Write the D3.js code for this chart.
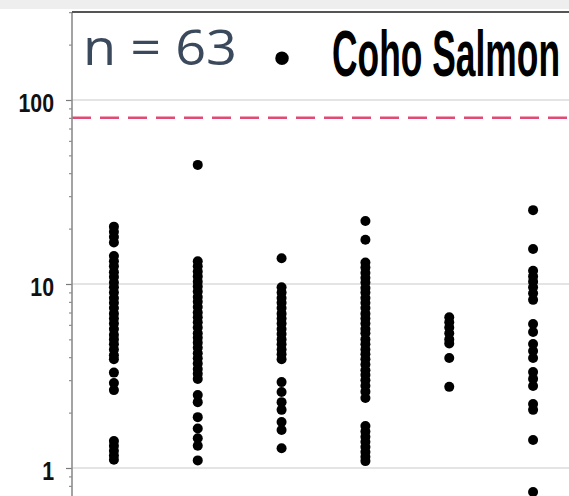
<!DOCTYPE html>
<html>
<head>
<meta charset="utf-8">
<script src="https://cdnjs.cloudflare.com/ajax/libs/d3/7.8.5/d3.min.js"></script>
<style>
    body { margin: 0; background: #ffffff; }
    #chart-area { width: 569px; height: 496px; overflow: hidden; }
</style>
</head>
<body>
<div id="chart-area"></div>
<script>

// Sites along the x axis (names are cut off in the picture)
const sites = ["Site 1", "Site 2", "Site 3", "Site 4", "Site 5", "Site 6"];

// Measured values per site (log scale)
const site1Values = [20.5, 19.2, 18.0, 16.8, 14.2, 13.3, 12.5, 11.6, 10.9, 10.2, 9.6, 9.0, 8.4, 7.9, 7.4, 6.9, 6.5,
    6.1, 5.7, 5.3, 5.0, 4.7, 4.4, 4.1, 3.9, 3.3, 2.9, 2.65, 1.40, 1.32, 1.24, 1.17, 1.11];
const site2Values = [44.4, 13.3, 12.5, 11.7, 11.0, 10.3, 9.7, 9.1, 8.5, 8.0, 7.5, 7.0, 6.6, 6.2, 5.8, 5.4, 5.1,
    4.8, 4.5, 4.2, 3.95, 3.7, 3.45, 3.25, 3.05, 2.49, 2.28, 1.89, 1.64, 1.45, 1.32, 1.10];
const site3Values = [13.8, 9.6, 9.0, 8.4, 7.9, 7.4, 6.9, 6.5, 6.1, 5.7, 5.35, 5.0, 4.7, 4.4, 4.15, 3.9,
    2.93, 2.59, 2.28, 2.07, 1.78, 1.61, 1.28];
const site4Values = [22.0, 17.4, 13.1, 12.3, 11.5, 10.8, 10.2, 9.5, 9.0, 8.4, 7.9, 7.4, 6.9, 6.5, 6.1, 5.7, 5.4,
    5.0, 4.7, 4.4, 4.15, 3.9, 3.65, 3.4, 3.2, 3.0, 2.8, 2.6, 2.4, 1.69, 1.58, 1.48, 1.39, 1.30, 1.22, 1.15, 1.09];
const site5Values = [6.6, 6.2, 5.8, 5.4, 5.0, 4.75, 3.96, 2.76];
const site6Values = [25.2, 15.5, 11.8, 11.0, 10.3, 9.6, 8.9, 8.2, 6.06, 5.48, 4.72, 4.32, 3.96, 3.32, 3.05, 2.79,
    2.23, 2.07, 1.42, 0.74];

// Axis ticks
const majorTicks = [1, 10, 100];
const minorTicks = [0.7, 0.8, 0.9, 2, 3, 4, 5, 6, 7, 8, 9, 20, 30, 40, 50, 60, 70, 80, 90, 200, 300];

// Reference line and title
const referenceValue = 80;
const sampleText = "n = 63";
const speciesText = "Coho Salmon";


class StripChart {
    constructor(parentElement, data) {
        this.parentElement = parentElement;
        this.data = data;
        this.initVis();
    }

    initVis() {
        let vis = this;

        vis.margin = { top: 12, right: 0, bottom: 0, left: 72 };
        vis.width = 569 - vis.margin.left - vis.margin.right;
        vis.height = 496 - vis.margin.top - vis.margin.bottom;

        vis.svg = d3.select("#" + vis.parentElement)
            .append("svg")
            .attr("width", 569)
            .attr("height", 496);

        // faint grey strip above the frame
        vis.svg.append("rect")
            .attr("width", 569)
            .attr("height", 9)
            .attr("fill", "#eeeeee");

        vis.g = vis.svg.append("g")
            .attr("transform", `translate(${vis.margin.left}, ${vis.margin.top})`);

        // Scales: bands run a little past the right edge (picture is cropped)
        vis.xScale = d3.scaleBand().domain(sites).range([0, 503]);
        vis.yScale = d3.scaleLog().domain([1, 100]).range([456, 88]);

        // gridlines at the decades
        vis.g.selectAll(".grid")
            .data(majorTicks)
            .enter()
            .append("line")
            .attr("class", "grid")
            .attr("x1", 0)
            .attr("x2", vis.width)
            .attr("y1", d => vis.yScale(d))
            .attr("y2", d => vis.yScale(d))
            .attr("stroke", "#c9c9c9")
            .attr("stroke-width", 1.2);

        // red dashed reference line
        vis.g.append("line")
            .attr("x1", 0)
            .attr("x2", vis.width)
            .attr("y1", vis.yScale(referenceValue))
            .attr("y2", vis.yScale(referenceValue))
            .attr("stroke", "#e24a74")
            .attr("stroke-width", 2.5)
            .attr("stroke-dasharray", "19,9");

        // minor ticks
        vis.g.append("g")
            .attr("class", "y-minor")
            .call(d3.axisLeft(vis.yScale).tickValues(minorTicks).tickSize(3).tickFormat(""))
            .call(g => g.select(".domain").remove())
            .selectAll("line").attr("stroke", "#7a7a7a");

        // major ticks + labels
        let yAxis = vis.g.append("g")
            .attr("class", "y-axis")
            .call(d3.axisLeft(vis.yScale).tickValues(majorTicks).tickSize(6).tickPadding(12)
                .tickFormat(d3.format("d")));
        yAxis.select(".domain").remove();
        yAxis.selectAll("line").attr("stroke", "#7a7a7a").attr("stroke-width", 1.2);
        yAxis.selectAll("text")
            .attr("dy", "0.46em")
            .attr("font-family", "'Liberation Sans', Arial, sans-serif")
            .attr("font-weight", "bold")
            .attr("font-size", 26)
            .attr("fill", "#111111")
            // squeeze to a narrow face
            .each(function() {
                let len = this.getComputedTextLength();
                d3.select(this)
                    .attr("textLength", len * 0.82)
                    .attr("lengthAdjust", "spacingAndGlyphs");
            });

        // frame: left axis and top border
        vis.g.append("line")
            .attr("x1", 0).attr("x2", 0)
            .attr("y1", 0).attr("y2", vis.height)
            .attr("stroke", "#8c8c8c")
            .attr("stroke-width", 1.6);

        vis.g.append("line")
            .attr("x1", 0).attr("x2", vis.width)
            .attr("y1", 0).attr("y2", 0)
            .attr("stroke", "#555555")
            .attr("stroke-width", 2);

        // Title: sample size, bullet, species
        vis.svg.append("text")
            .attr("x", 83)
            .attr("y", 65)
            .attr("textLength", 154)
            .attr("lengthAdjust", "spacingAndGlyphs")
            .style("font-family", "'Open Sans', Lato, sans-serif")
            .style("font-size", "50px")
            .attr("fill", "#3b495c")
            .text(sampleText);

        vis.svg.append("text")
            .attr("x", 282)
            .attr("y", 75)
            .attr("text-anchor", "middle")
            .style("font-family", "'Liberation Sans', sans-serif")
            .style("font-size", "50px")
            .attr("fill", "#000000")
            .text("•");

        // tall condensed look: small font stretched vertically
        vis.svg.append("text")
            .attr("transform", "translate(332, 76) scale(1, 1.83)")
            .style("font-family", "'Liberation Sans', Arial, sans-serif")
            .style("font-weight", "bold")
            .style("font-size", "35.4px")
            .attr("fill", "#000000")
            .text(speciesText);

        vis.wrangleData();
    }

    wrangleData() {
        let vis = this;

        // flatten to one row per dot
        vis.displayData = [];
        vis.data.forEach(d => {
            d.values.forEach(v => vis.displayData.push({ site: d.site, value: v }));
        });

        vis.updateVis();
    }

    updateVis() {
        let vis = this;

        vis.g.selectAll(".dot")
            .data(vis.displayData)
            .enter()
            .append("circle")
            .attr("class", "dot")
            .attr("cx", d => vis.xScale(d.site) + vis.xScale.bandwidth() / 2)
            .attr("cy", d => vis.yScale(d.value))
            .attr("r", 5)
            .attr("fill", "#000000");
    }
}

let chartData = [
    { site: sites[0], values: site1Values },
    { site: sites[1], values: site2Values },
    { site: sites[2], values: site3Values },
    { site: sites[3], values: site4Values },
    { site: sites[4], values: site5Values },
    { site: sites[5], values: site6Values }
];

let stripChart = new StripChart("chart-area", chartData);

</script>
</body>
</html>
